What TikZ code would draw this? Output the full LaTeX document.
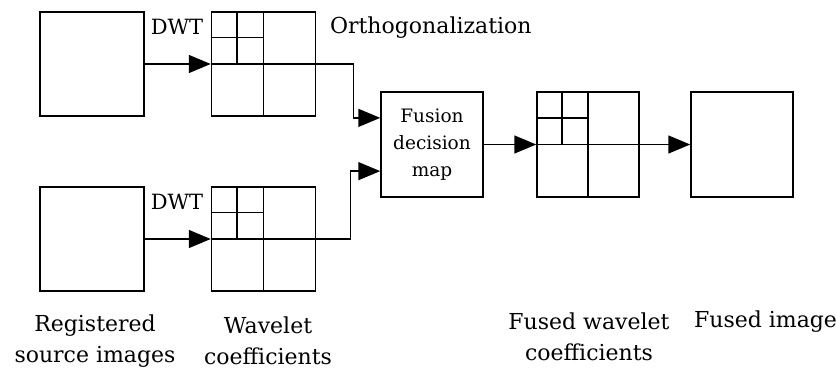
\documentclass[tikz,border=0pt]{standalone}
\usepackage{fontspec}
\setmainfont{DejaVu Serif}
\usepackage{tikz}
\usetikzlibrary{arrows.meta,calc}

\begin{document}
\begin{tikzpicture}
  [x=1pt, y=-1pt, line width=1.5pt,
   box/.style={draw, rectangle, inner sep=0pt, minimum width=104pt, minimum height=104pt},
   arr/.style={-{Triangle[length=22pt,width=18pt]}},
   lbl/.style={align=center, font=\fontsize{22}{31}\selectfont},
   small/.style={align=center, font=\fontsize{18.5}{27}\selectfont}]
  \useasboundingbox (0,0) rectangle (836,369);

  \node[box] (src1) at (92, 64) {};
  \node[box] (src2) at (92, 239) {};
  \node[box] (wav1) at (263.5, 64) {};
  \node[box] (wav2) at (263.5, 239) {};
  \node[box, small, minimum width=102pt, minimum height=105pt] (fusion) at (432, 144.5) {Fusion\\decision\\map};
  \node[box, minimum width=102pt, minimum height=105pt] (fwav) at (588, 144.5) {};
  \node[box, minimum width=102pt, minimum height=105pt] (fimg) at (742, 144.5) {};

  % subband lines of the wavelet boxes
  \foreach \w in {wav1,wav2,fwav} {
    \draw (\w.north) -- (\w.south);
    \draw (\w.west) -- (\w.east);
    \draw ($(\w.north west)!.25!(\w.north east)$) -- ($(\w.west)!.25!(\w.east)$);
    \draw ($(\w.north west)!.5!(\w.west)$) -- ($(\w.north)!.5!(\w.center)$);
  }

  \coordinate (in1) at ($(fusion.north west)!.25!(fusion.south west)$);
  \coordinate (in2) at ($(fusion.north west)!.75!(fusion.south west)$);

  \foreach \from/\to in {src1/wav1,src2/wav2,fusion/fwav,fwav/fimg}
  \draw[arr] (\from) -- (\to);
  \draw[arr] (wav1.east) -- ++(37,0) |- (in1);
  \draw[arr] (wav2.east) -- ++(34,0) |- (in2);

  \node[small, font=\fontsize{21}{27}\selectfont] (dwt1) at (177, 27) {DWT};
  \node[small, font=\fontsize{21}{27}\selectfont] (dwt2) at (177, 202) {DWT};
  \node[lbl, anchor=west] (orth) at (326, 28) {Orthogonalization};

  \node[lbl] (lsrc) at (95, 341) {Registered\\source images};
  \node[lbl] (lwav) at (268, 341) {Wavelet\\coefficients};
  \node[lbl] (lfwav) at (589, 337) {Fused wavelet\\coefficients};
  \node[lbl, anchor=west] (lfimg) at (690, 322) {Fused image};
\end{tikzpicture}
\end{document}
